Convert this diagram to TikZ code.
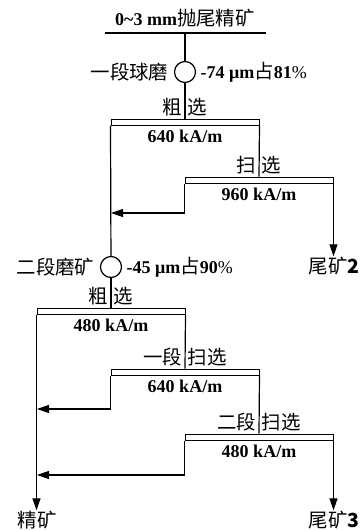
\documentclass[tikz,border=0pt]{standalone}
\usepackage{fontspec}
\setmainfont{Liberation Serif}
\newfontfamily\cjk{Noto Sans CJK SC}[Scale=1.08]
\usetikzlibrary{positioning,arrows.meta}
\begin{document}
\begin{tikzpicture}[x=1pt,y=-1pt,font=\fontsize{18}{20}\selectfont,
  bar/.style={draw,line width=1pt,minimum width=148pt,minimum height=6pt,inner sep=0pt},
  mill/.style={draw,circle,line width=1.2pt,minimum size=21pt,inner sep=0pt},
  flow/.style={line width=1.2pt},
  arr/.style={flow,-{Triangle[length=12pt,width=8pt]}},
  lbl/.style={inner sep=2.5pt},
  endlbl/.style={inner sep=0.5pt}]
\useasboundingbox (0,0) rectangle (361,531);
% feed
\node (feed) at (185,18) {\textbf{0\textasciitilde3 mm}{\cjk 抛尾精矿}};
\coordinate (ul) at (105,33);
\coordinate (ur) at (266,33);
\coordinate (top) at (185,33);
\draw[flow] (ul) -- (ur);
% first grinding
\node[mill] (m1) at (185,72) {};
\node[left=2pt of m1] {\cjk 一段球磨};
\node[right=1pt of m1] {\textbf{-74 μm}{\cjk 占}\textbf{81}\%};
\draw[flow] (top) -- (m1);
% roughing 640
\node[bar] (b1) at (185,122) {};
\node[lbl,anchor=south east] at (b1.north) {\cjk 粗};
\node[lbl,anchor=south west] at (b1.north) {\cjk 选};
\node[below=1pt of b1] {\textbf{640 kA/m}};
\draw[flow] (m1) -- (b1.north);
% scavenging 960
\node[bar] (b2) at (259,180) {};
\node[lbl,anchor=south east] at (b2.north) {\cjk 扫};
\node[lbl,anchor=south west] at (b2.north) {\cjk 选};
\node[below=1pt of b2] {\textbf{960 kA/m}};
\draw[flow] (b1.south east) -- (b2.north);
\node[endlbl] (t2) at (334,266) {\cjk 尾矿\textbf{2}};
\draw[arr] (b2.south east) -- (b2.south east |- t2.north);
% second grinding
\node[mill] (m2) at (111,267) {};
\node[left=2pt of m2] {\cjk 二段磨矿};
\node[right=1pt of m2] {\textbf{-45 μm}{\cjk 占}\textbf{90}\%};
\draw[flow] (b1.south west) -- (m2);
\coordinate (r1) at (111,213);
\draw[arr] (b2.south west) |- (r1);
% roughing 480
\node[bar] (b3) at (111,311) {};
\node[lbl,anchor=south east] at (b3.north) {\cjk 粗};
\node[lbl,anchor=south west] at (b3.north) {\cjk 选};
\node[below=1pt of b3] {\textbf{480 kA/m}};
\draw[flow] (m2) -- (b3.north);
\node[endlbl] (con) at (37,520) {\cjk 精矿};
\draw[arr] (b3.south west) -- (b3.south west |- con.north);
% scavenging I 640
\node[bar] (b4) at (185,372) {};
\node[lbl,anchor=south east] at (b4.north) {\cjk 一段};
\node[lbl,anchor=south west] at (b4.north) {\cjk 扫选};
\node[below=1pt of b4] {\textbf{640 kA/m}};
\draw[flow] (b3.south east) -- (b4.north);
\coordinate (r2) at (37,409);
\draw[arr] (b4.south west) |- (r2);
% scavenging II 480
\node[bar] (b5) at (259,437) {};
\node[lbl,anchor=south east] at (b5.north) {\cjk 二段};
\node[lbl,anchor=south west] at (b5.north) {\cjk 扫选};
\node[below=1pt of b5] {\textbf{480 kA/m}};
\draw[flow] (b4.south east) -- (b5.north);
\coordinate (r3) at (37,475);
\draw[arr] (b5.south west) |- (r3);
\node[endlbl] (t3) at (334,520) {\cjk 尾矿\textbf{3}};
\draw[arr] (b5.south east) -- (b5.south east |- t3.north);
\end{tikzpicture}
\end{document}
